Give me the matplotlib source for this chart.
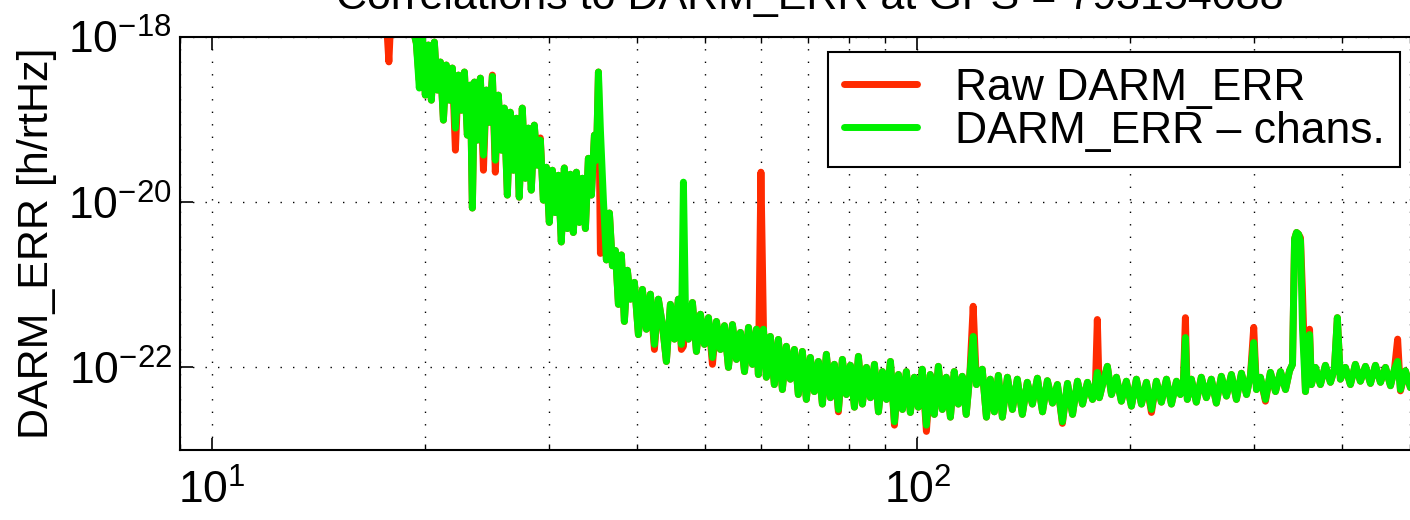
import numpy as np
import matplotlib.pyplot as plt
from matplotlib.ticker import LogLocator, NullLocator, NullFormatter

plt.rcParams['font.family'] = ['Liberation Sans', 'DejaVu Sans']
plt.rcParams['mathtext.fontset'] = 'custom'
plt.rcParams['mathtext.rm'] = 'Liberation Sans'
plt.rcParams['mathtext.it'] = 'Liberation Sans:italic'
plt.rcParams['mathtext.bf'] = 'Liberation Sans:bold'

# frequency [Hz]
freq = [
    9.0, 11.0, 13.0, 15.0, 16.5, 17.6, 17.8, 17.95, 18.6, 19.1,
    19.28, 19.47, 19.66, 19.86, 20.05, 20.25, 20.45, 20.65, 20.85, 21.06,
    21.27, 21.47, 21.69, 21.90, 22.12, 22.34, 22.56, 22.78, 23.00, 23.23,
    23.38, 23.54, 23.77, 24.00, 24.24, 24.47, 24.71, 24.96, 25.20, 25.45,
    25.70, 25.95, 26.21, 26.46, 26.73, 26.99, 27.25, 27.52, 27.79, 28.07,
    28.34, 28.62, 28.90, 29.19, 29.48, 29.77, 30.06, 30.36, 30.65, 30.96,
    31.26, 31.57, 31.88, 32.20, 32.51, 32.84, 33.16, 33.49, 33.82, 34.15,
    34.49, 34.83, 35.06, 35.29, 35.52, 35.87, 36.22, 36.58, 36.94, 37.30,
    37.67, 38.04, 38.41, 38.79,
    39.17, 39.69, 40.21, 40.74, 41.27, 41.82, 42.37, 42.92, 43.49, 44.06,
    44.64, 45.23, 45.82, 46.27, 46.58, 46.89, 47.35, 47.97, 48.60, 49.24,
    49.89, 50.55, 51.21, 51.88, 52.57, 53.26, 53.96, 54.67, 55.39, 56.12,
    56.86, 57.61, 58.36, 59.13, 59.5, 60.0, 60.5, 61.07, 61.87, 62.68,
    63.51, 64.35, 65.19, 66.05, 66.92, 67.79,
    68.69, 69.59, 70.51, 71.43, 72.38, 73.33, 74.29, 75.28, 76.26, 77.27,
    78.28, 79.32, 80.36, 81.42, 82.49, 83.57, 84.68, 85.79, 86.92, 88.07,
    89.22, 90.40, 91.59, 92.79, 94.01, 95.25, 96.47, 97.74, 99.02, 100.3,
    101.6, 103.0, 104.3, 105.7, 107.1, 108.5, 109.9, 111.4, 112.8, 114.3,
    115.8, 117.3, 118.7, 120.0, 121.3, 123.6, 125.3, 126.9, 128.6, 130.3,
    132.0, 134.2, 136.4, 138.6, 140.9, 143.2, 145.6, 148.0, 150.5, 152.9,
    155.5, 158.0, 160.6, 163.3, 166.0, 168.7, 171.5, 174.3, 177.2, 178.9,
    180.0, 181.2, 183.6, 186.0, 188.5, 191.6, 194.7, 197.9, 201.2, 204.5,
    207.9, 211.3, 214.8, 218.3, 221.9, 225.6, 229.3, 233.1, 236.1, 238.4,
    240.0, 241.5, 244.7, 248.7, 252.8, 257.0, 261.2, 265.5, 269.9, 274.4,
    278.9, 283.5, 288.2, 293.0, 296.8, 300.0, 302.7, 306.6, 311.7, 316.8,
    322.1, 327.4, 332.8, 337.2, 340.5, 342.8, 345.0, 347.3, 349.5, 351.8,
    355.2, 357.5, 360.0, 362.2, 366.9, 373.0, 379.1, 385.4, 390.4, 394.2,
    398.1, 404.7, 411.4, 418.1, 425.0, 432.1, 439.2, 446.4, 453.8, 461.3,
    468.9, 475.0, 480.0, 484.4, 492.3, 500.4, 516.9, 530.0, 545.0,
]

# spectra in units of 1e-22 h/rtHz
raw = [
    300000, 150000, 80000, 50000, 35000, 25000, 5000, 25000, 20000, 15000,
    12000, 8460, 3000, 9700, 1980, 8000, 1720, 8700, 2280, 4980,
    986, 4580, 1720, 4210, 427, 3460, 1300, 3770, 649, 2620,
    85, 2850, 565, 3180, 244, 2280, 930, 3460, 231, 1980,
    427, 1380, 122, 1230, 244, 1040, 115, 1380, 195, 789,
    140, 858, 281, 600, 106, 265, 57, 244, 75, 212,
    33, 260, 48, 218, 43, 231, 57, 195, 48, 340,
    122, 649, 323, 3770, 24, 92, 20, 74, 17, 26,
    5.8, 23, 3.6, 15,
    6.7, 10.7, 2.5, 8.8, 2.9, 7.7, 1.65, 6.7, 3.3, 1.18,
    5.8, 2.2, 6.7, 1.65, 1.8, 5.0, 2.2, 6.1, 1.56, 4.4,
    1.9, 4.0, 1.09, 3.6, 1.65, 3.2, 1.0, 3.3, 1.25, 2.65,
    0.89, 3.05, 1.09, 2.9, 0.82, 231, 2.9, 0.76, 2.37, 0.62,
    2.18, 0.54, 1.8, 0.72, 1.65, 0.47,
    1.56, 0.41, 1.32, 0.51, 1.18, 0.36, 1.44, 0.43, 1.09, 0.29,
    1.25, 0.47, 1.06, 0.33, 1.36, 0.36, 1.0, 0.43, 1.09, 0.29,
    0.89, 0.41, 1.18, 0.20, 0.82, 0.31, 0.89, 0.285, 0.76, 0.33,
    0.95, 0.168, 0.82, 0.27, 1.03, 0.31, 0.76, 0.25, 0.89, 0.36,
    0.78, 0.27, 0.82, 5.5, 0.62, 0.95, 0.25, 0.72, 0.29, 0.80,
    0.25, 0.76, 0.31, 0.72, 0.27, 0.66, 0.36, 0.74, 0.29, 0.69,
    0.37, 0.62, 0.21, 0.64, 0.27, 0.68, 0.36, 0.66, 0.41, 0.62,
    3.8, 0.43, 0.68, 1.03, 0.47, 0.76, 0.39, 0.68, 0.34, 0.72,
    0.36, 0.66, 0.285, 0.68, 0.38, 0.72, 0.36, 0.68, 0.47, 0.64,
    4.0, 0.41, 0.72, 0.38, 0.76, 0.43, 0.72, 0.37, 0.78, 0.45,
    0.82, 0.41, 0.85, 0.47, 0.80, 3.05, 0.54, 0.76, 0.39, 0.87,
    0.51, 0.89, 0.54, 0.91, 1.09, 36, 43, 41, 37, 8.0,
    0.51, 0.91, 2.9, 0.62, 1.0, 0.62, 1.06, 0.66, 0.95, 4.0,
    0.72, 1.0, 0.62, 1.09, 0.68, 1.03, 0.64, 1.06, 0.66, 1.0,
    0.60, 0.95, 2.2, 0.52, 0.91, 0.57, 0.82, 0.6, 0.9,
]

clean = [
    300000, 150000, 80000, 50000, 35000, 25000, 25000, 25000, 20000, 15000,
    12000, 8460, 2410, 9700, 1980, 8000, 1720, 8700, 2280, 4980,
    986, 4580, 1720, 4210, 789, 3460, 1300, 3770, 649, 2620,
    85, 2850, 565, 3180, 372, 2280, 930, 3330, 323, 1980,
    427, 1380, 122, 1230, 244, 1040, 115, 1380, 195, 789,
    140, 858, 281, 565, 106, 265, 57, 244, 75, 212,
    33, 260, 48, 218, 43, 231, 57, 195, 48, 340,
    122, 649, 323, 3770, 746, 106, 20, 74, 17, 26,
    5.8, 23, 3.6, 15,
    6.7, 10.7, 2.5, 8.8, 2.9, 7.7, 1.9, 6.7, 3.3, 1.18,
    5.8, 2.2, 6.7, 1.9, 175, 5.0, 2.2, 6.1, 1.56, 4.4,
    1.9, 4.0, 1.32, 3.6, 1.65, 3.2, 1.0, 3.3, 1.25, 2.65,
    0.89, 3.05, 1.09, 2.9, 0.82, 2.2, 2.9, 0.76, 2.37, 0.62,
    2.18, 0.54, 1.8, 0.72, 1.65, 0.47,
    1.56, 0.41, 1.32, 0.51, 1.18, 0.36, 1.44, 0.43, 1.09, 0.31,
    1.25, 0.47, 1.06, 0.33, 1.36, 0.36, 1.0, 0.43, 1.09, 0.29,
    0.89, 0.41, 1.18, 0.22, 0.82, 0.31, 0.89, 0.285, 0.76, 0.33,
    0.95, 0.2, 0.82, 0.27, 1.03, 0.31, 0.76, 0.25, 0.89, 0.36,
    0.78, 0.27, 0.82, 2.37, 0.62, 0.95, 0.25, 0.72, 0.29, 0.80,
    0.25, 0.76, 0.31, 0.72, 0.27, 0.66, 0.36, 0.74, 0.29, 0.69,
    0.37, 0.62, 0.22, 0.64, 0.27, 0.68, 0.36, 0.66, 0.41, 0.62,
    0.87, 0.43, 0.68, 1.03, 0.47, 0.76, 0.39, 0.68, 0.34, 0.72,
    0.36, 0.66, 0.31, 0.68, 0.38, 0.72, 0.36, 0.68, 0.47, 0.64,
    2.3, 0.41, 0.72, 0.38, 0.76, 0.43, 0.72, 0.37, 0.78, 0.45,
    0.82, 0.41, 0.85, 0.47, 0.80, 2.0, 0.54, 0.76, 0.41, 0.87,
    0.51, 0.89, 0.54, 0.91, 1.09, 36, 43, 41, 34, 2.9,
    0.51, 0.91, 2.5, 0.62, 1.0, 0.62, 1.06, 0.66, 0.95, 4.0,
    0.72, 1.0, 0.62, 1.09, 0.68, 1.03, 0.64, 1.06, 0.66, 1.0,
    0.60, 0.95, 1.18, 0.54, 0.91, 0.57, 0.82, 0.6, 0.9,
]

assert len(freq) == len(raw) == len(clean)

unit = 1e-22
f = np.array(freq)
raw_asd = np.array(raw) * unit
clean_asd = np.array(clean) * unit

fig = plt.figure(figsize=(14.1, 5.2), dpi=100)
# axes runs past the right edge of the picture (cropped original)
ax = fig.add_axes([0.1277, 0.1346, 0.8931, 0.7942])

ax.loglog(f, raw_asd, color='#ff2a00', lw=5.0, solid_joinstyle='round',
          solid_capstyle='round', label='Raw DARM_ERR')
ax.loglog(f, clean_asd, color='#00f000', lw=5.0, solid_joinstyle='round',
          solid_capstyle='round', label='DARM_ERR \u2013 chans.')

ax.set_xlim(9, 550)
ax.set_ylim(1e-23, 1e-18)
ax.set_yticks([1e-22, 1e-20, 1e-18])
ax.yaxis.set_minor_locator(NullLocator())
ax.xaxis.set_major_locator(LogLocator(base=10, numticks=10))
ax.xaxis.set_minor_locator(LogLocator(base=10, subs=np.arange(2, 10), numticks=30))
ax.xaxis.set_minor_formatter(NullFormatter())

ax.grid(True, which='major', axis='both', ls=(0, (1, 8)), color='k', lw=1)
ax.grid(True, which='minor', axis='x', ls=(0, (1, 8)), color='k', lw=1)

ax.tick_params(which='both', direction='in', top=True, right=True, labelsize=32)
ax.tick_params(which='major', length=9, width=1.2)
ax.tick_params(which='minor', length=4, width=1)
ax.tick_params(axis='x', pad=14)
ax.tick_params(axis='y', pad=6)
for s in ax.spines.values():
    s.set_linewidth(1.5)

ax.set_ylabel('DARM_ERR [h/rtHz]', fontsize=31, labelpad=8)
ax.set_title('Correlations to DARM_ERR at GPS = 793154088', fontsize=31, pad=20)

leg = ax.legend(loc='upper left', bbox_to_anchor=(828 / 1410, 1 - 52 / 520),
                bbox_transform=fig.transFigure, fontsize=32, fancybox=False,
                edgecolor='k', framealpha=1, borderaxespad=0, handlelength=1.65,
                handletextpad=0.85, labelspacing=0.05, borderpad=0.35)
leg.get_frame().set_linewidth(1.5)

fig.savefig('out.png', dpi=100)
